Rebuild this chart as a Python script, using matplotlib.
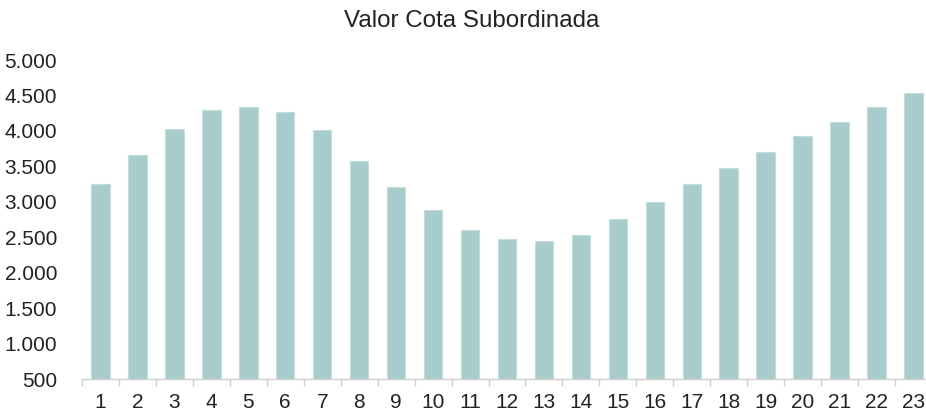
import numpy as np
import matplotlib
matplotlib.use('Agg')
import matplotlib.pyplot as plt
from matplotlib.ticker import FuncFormatter, FixedLocator

# Data
periods = list(range(1, 24))
valores = [3250, 3660, 4025, 4295, 4335, 4265, 4010, 3575, 3210,
           2885, 2600, 2475, 2445, 2530, 2755, 2995, 3250, 3475,
           3700, 3925, 4125, 4335, 4535]
y_ticks = [500, 1000, 1500, 2000, 2500, 3000, 3500, 4000, 4500, 5000]

plt.rcParams['font.family'] = ['Liberation Sans', 'DejaVu Sans']

fig = plt.figure(figsize=(9.26, 4.11), dpi=100)
ax = fig.add_axes([82 / 926, 32 / 411, 850 / 926, 319 / 411])

x = np.arange(1, len(periods) + 1)
ax.bar(x, valores, width=0.5, color='#a8cccc', edgecolor='#c4dddb',
       linewidth=0.8, zorder=2)

ax.set_xlim(0.5, len(periods) + 0.5)
ax.set_ylim(500, 5000)
ax.set_yticks(y_ticks)
ax.yaxis.set_major_formatter(FuncFormatter(lambda v, p: f"{int(v):,}".replace(',', '.')))

ax.set_xticks(x)
ax.set_xticklabels([str(p) for p in periods])
ax.xaxis.set_minor_locator(FixedLocator(np.arange(0.5, len(periods) + 1, 1)))

ax.tick_params(axis='y', length=0, pad=18, labelsize=15, colors='#222222')
ax.tick_params(axis='x', which='major', length=0, pad=10, labelsize=15, colors='#222222')
ax.tick_params(axis='x', which='minor', length=5, width=1, color='#d0d0d0')

for side in ['top', 'right', 'left']:
    ax.spines[side].set_visible(False)
ax.spines['bottom'].set_color('#d0d0d0')
ax.spines['bottom'].set_linewidth(1)

fig.text(472 / 926, 1 - 21 / 411, 'Valor Cota Subordinada', ha='center',
         va='center', fontsize=17.4, color='#222222')

fig.savefig('out.png', dpi=100)
